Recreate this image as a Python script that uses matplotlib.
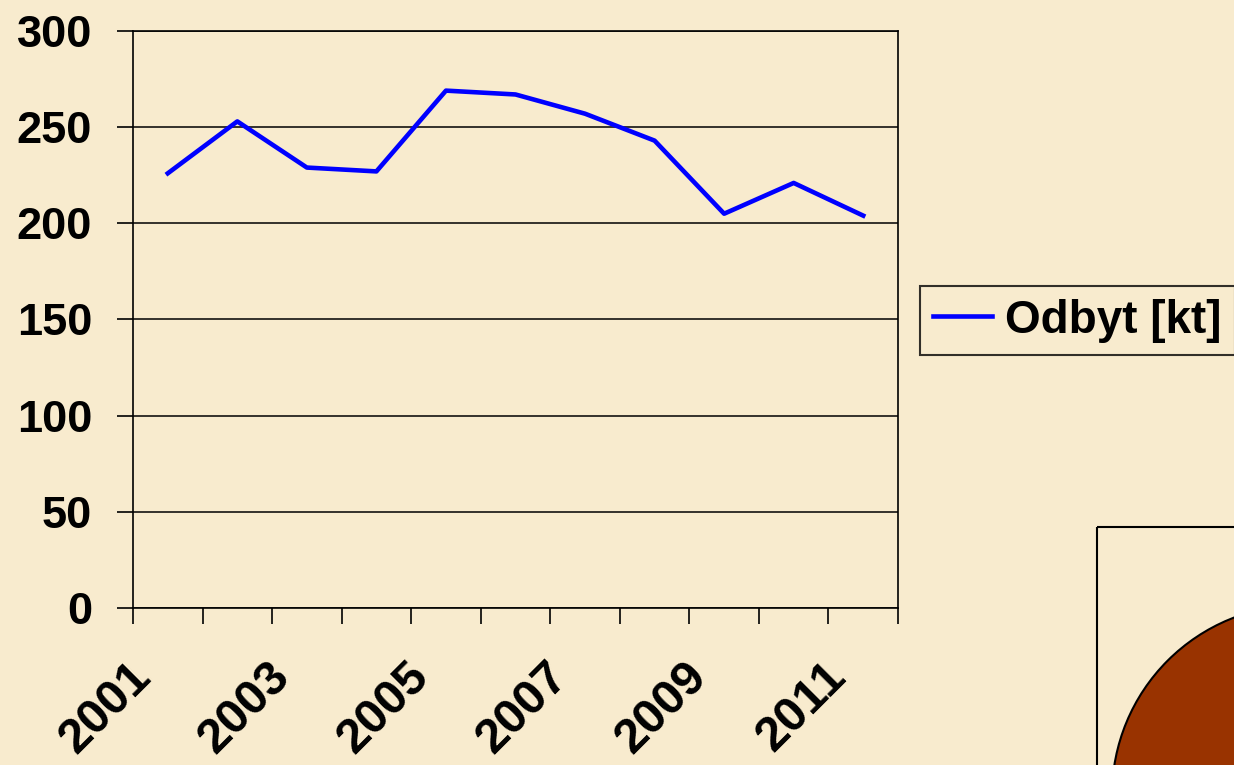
import matplotlib
matplotlib.use('Agg')
import matplotlib.pyplot as plt
import matplotlib.transforms as mtrans
from matplotlib.patches import Rectangle, Circle
import numpy as np

# data
years = [2001, 2002, 2003, 2004, 2005, 2006, 2007, 2008, 2009, 2010, 2011]
odbyt = [226, 253, 229, 227, 269, 267, 257, 243, 205, 221, 204]
yticks = [0, 50, 100, 150, 200, 250, 300]
series_name = 'Odbyt [kt]'

bg = '#F8EBCE'
plt.rcParams['font.family'] = ['Liberation Sans', 'DejaVu Sans']
plt.rcParams['font.weight'] = 'bold'

W, H = 1234, 765
fig = plt.figure(figsize=(W / 100, H / 100), dpi=100)
fig.patch.set_facecolor(bg)

# decoration layer in pixel coords (cut off pie chart at bottom right)
deco = fig.add_axes([0, 0, 1, 1], zorder=0)
deco.set_xlim(0, W)
deco.set_ylim(H, 0)
deco.axis('off')
deco.add_patch(Rectangle((1097, 527), 300, 300, fill=False, ec='black', lw=1.5))
deco.add_patch(Circle((1302, 795), 190, fc='#993300', ec='black', lw=1.5))

ax = fig.add_axes([133 / W, 1 - 608 / H, 765 / W, 577 / H], zorder=1)
ax.patch.set_alpha(0)

x = np.arange(len(years))
ax.plot(x, odbyt, color='#0000FF', lw=3.3, label=series_name)

ax.set_ylim(0, 300)
ax.set_yticks(yticks)
ax.yaxis.grid(True, color='black', lw=1.1)
ax.set_axisbelow(True)
ax.tick_params(axis='y', direction='out', length=11.5, width=1.2, pad=18, labelsize=32.5)

ax.set_xlim(-0.5, len(years) - 0.5)
ax.set_xticks(np.arange(len(years) + 1) - 0.5)
ax.set_xticklabels([])
ax.set_xticks(x, minor=True)
ax.set_xticklabels([str(y) if i % 2 == 0 else '' for i, y in enumerate(years)], minor=True)
ax.tick_params(axis='x', which='major', direction='out', length=11.5, width=1.2)
ax.tick_params(axis='x', which='minor', length=0, pad=33, labelsize=35)
shift = mtrans.ScaledTranslation(-40 / 100, 0, fig.dpi_scale_trans)
for lab in ax.get_xticklabels(minor=True):
    lab.set_rotation(45)
    lab.set_ha('right')
    lab.set_va('top')
    lab.set_rotation_mode('anchor')
    lab.set_transform(lab.get_transform() + shift)

for s in ax.spines.values():
    s.set_color('black')
    s.set_linewidth(1.2)

leg = ax.legend(loc='center left', bbox_to_anchor=(920 / W, 1 - 320.5 / H),
                bbox_transform=fig.transFigure, fontsize=33, frameon=True,
                fancybox=False, handlelength=1.3, handletextpad=0.28,
                borderpad=0.28, borderaxespad=0)
leg.get_frame().set_edgecolor('black')
leg.get_frame().set_linewidth(1.5)
leg.get_frame().set_facecolor('none')

fig.savefig('out.png', dpi=100, facecolor=bg)
